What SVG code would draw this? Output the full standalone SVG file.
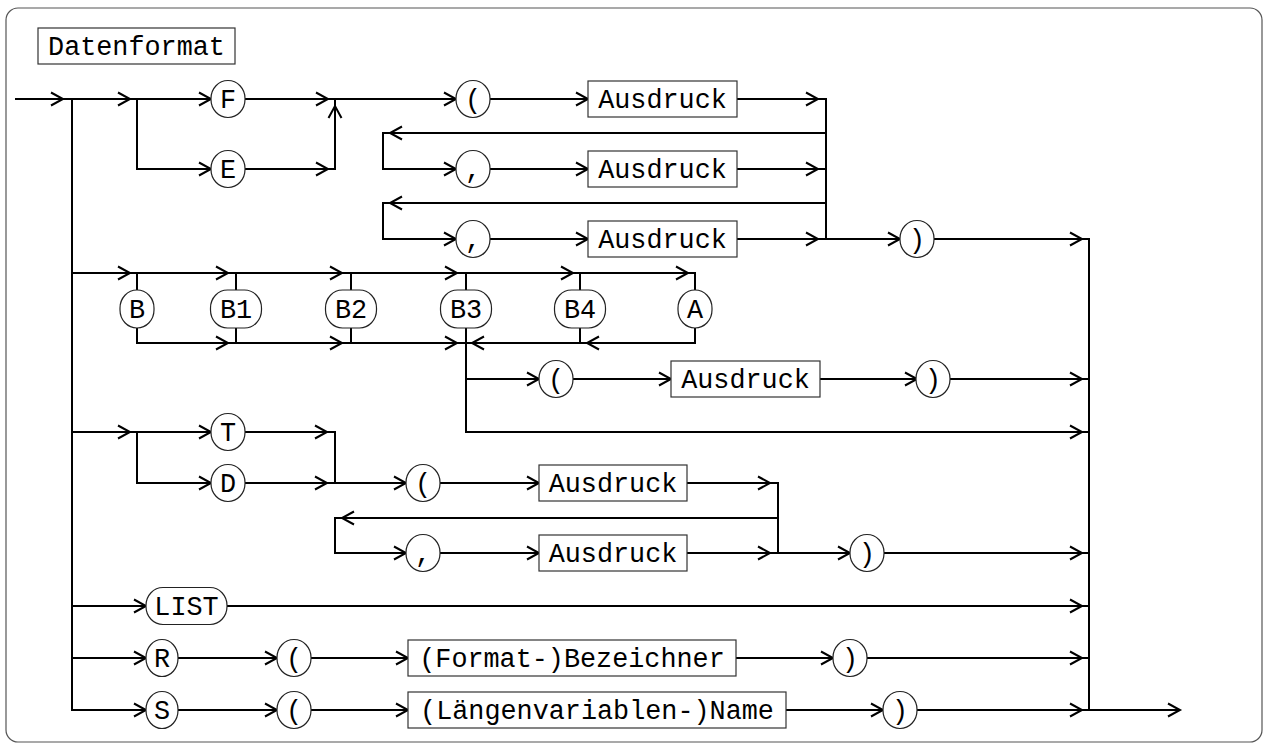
<svg xmlns="http://www.w3.org/2000/svg" xmlns:xlink="http://www.w3.org/1999/xlink" width="1270" height="748" viewBox="0 0 1270 748">
<style>
.frame{fill:#fff;stroke:#555;stroke-width:1.2}
.ln{fill:none;stroke:#000;stroke-width:2}
.ah{fill:none;stroke:#000;stroke-width:2}
.term{fill:#fff;stroke:#222;stroke-width:1.2}
.box{fill:#fff;stroke:#333;stroke-width:1.2}
.t{font-family:"Liberation Mono","DejaVu Sans Mono",monospace;font-size:26.8px;fill:#000;text-anchor:middle}
</style>
<defs>
<path id="ar" class="ah" d="M-12,-6.5 L0,0 L-12,6.5"/>
<path id="al" class="ah" d="M12,-6.5 L0,0 L12,6.5"/>
<path id="au" class="ah" d="M-6.5,12 L0,0 L6.5,12"/>
</defs>
<rect class="frame" x="6" y="8" width="1256" height="734" rx="12"/>
<g id="title"><rect class="box" x="38" y="28" width="197" height="36"/><text class="t" x="136.5" y="55">Datenformat</text></g>
<g id="connectors">
<path class="ln" d="M15,99 H211 M137,99 V169 H211 M245,99 H456 M245,169 H335 V99 M490,99 H588 M737,99 H826 V239 H900 M826,133 H383 V169 H456 M490,169 H588 M737,169 H826 M826,203 H383 V239 H456 M490,239 H588 M737,239 H826 M934,239 H1089 V710 M1089,710 H1180 M72,99 V710 H146"/>
<path class="ln" d="M72,273 H695 V290 M137,273 V290 M236,273 V290 M351,273 V290 M466,273 V290 M580,273 V290 M137,328 V343 H466 M236,328 V343 M351,328 V343 M580,328 V343 M695,328 V343 H466 M466,328 V432 H1089 M466,379 H539 M573,379 H671 M820,379 H917 M950,379 H1089"/>
<path class="ln" d="M72,432 H211 M137,432 V483 H211 M245,432 H335 V483 M245,483 H406 M440,483 H539 M687,483 H778 V553 H850 M778,518 H335 V553 H406 M440,553 H539 M687,553 H778 M884,553 H1089"/>
<path class="ln" d="M72,606 H146 M227,606 H1089 M72,658 H146 M178,658 H277 M311,658 H408 M736,658 H833 M867,658 H1089 M178,710 H277 M311,710 H408 M786,710 H883 M917,710 H1089"/>
<g id="arrows">
<use xlink:href="#ar" x="63" y="99"/><use xlink:href="#ar" x="130" y="99"/><use xlink:href="#ar" x="211" y="99"/><use xlink:href="#ar" x="328" y="99"/><use xlink:href="#ar" x="456" y="99"/><use xlink:href="#ar" x="588" y="99"/><use xlink:href="#ar" x="818" y="99"/>
<use xlink:href="#ar" x="211" y="169"/><use xlink:href="#ar" x="328" y="169"/><use xlink:href="#ar" x="456" y="169"/><use xlink:href="#ar" x="588" y="169"/><use xlink:href="#ar" x="818" y="169"/>
<use xlink:href="#ar" x="456" y="239"/><use xlink:href="#ar" x="588" y="239"/><use xlink:href="#ar" x="818" y="239"/><use xlink:href="#ar" x="900" y="239"/><use xlink:href="#ar" x="1082" y="239"/>
<use xlink:href="#au" x="335" y="106"/>
<use xlink:href="#al" x="390" y="133"/><use xlink:href="#al" x="390" y="203"/>
<use xlink:href="#ar" x="130" y="273"/><use xlink:href="#ar" x="228" y="273"/><use xlink:href="#ar" x="342" y="273"/><use xlink:href="#ar" x="457" y="273"/><use xlink:href="#ar" x="573" y="273"/><use xlink:href="#ar" x="688" y="273"/>
<use xlink:href="#ar" x="228" y="343"/><use xlink:href="#ar" x="342" y="343"/><use xlink:href="#ar" x="457" y="343"/><use xlink:href="#al" x="587" y="343"/><use xlink:href="#al" x="472" y="343"/>
<use xlink:href="#ar" x="539" y="379"/><use xlink:href="#ar" x="671" y="379"/><use xlink:href="#ar" x="917" y="379"/><use xlink:href="#ar" x="1082" y="379"/>
<use xlink:href="#ar" x="1082" y="432"/>
<use xlink:href="#ar" x="130" y="432"/><use xlink:href="#ar" x="211" y="432"/><use xlink:href="#ar" x="327" y="432"/>
<use xlink:href="#ar" x="211" y="483"/><use xlink:href="#ar" x="327" y="483"/><use xlink:href="#ar" x="406" y="483"/><use xlink:href="#ar" x="539" y="483"/><use xlink:href="#ar" x="770" y="483"/>
<use xlink:href="#al" x="342" y="518"/>
<use xlink:href="#ar" x="406" y="553"/><use xlink:href="#ar" x="539" y="553"/><use xlink:href="#ar" x="770" y="553"/><use xlink:href="#ar" x="850" y="553"/><use xlink:href="#ar" x="1082" y="553"/>
<use xlink:href="#ar" x="146" y="606"/><use xlink:href="#ar" x="1082" y="606"/>
<use xlink:href="#ar" x="146" y="658"/><use xlink:href="#ar" x="277" y="658"/><use xlink:href="#ar" x="408" y="658"/><use xlink:href="#ar" x="833" y="658"/><use xlink:href="#ar" x="1082" y="658"/>
<use xlink:href="#ar" x="146" y="710"/><use xlink:href="#ar" x="277" y="710"/><use xlink:href="#ar" x="408" y="710"/><use xlink:href="#ar" x="883" y="710"/><use xlink:href="#ar" x="1082" y="710"/><use xlink:href="#ar" x="1180" y="710"/>
</g>
</g>
<g id="n-F"><rect class="term" x="211" y="80.5" width="34" height="37" rx="17" ry="18"/><text class="t" x="228" y="108">F</text></g>
<g id="n-E"><rect class="term" x="211" y="150.5" width="34" height="37" rx="17" ry="18"/><text class="t" x="228" y="178">E</text></g>
<g id="n-lp1"><rect class="term" x="456" y="80.5" width="34" height="37" rx="17" ry="18"/><text class="t" x="473" y="108">(</text></g>
<g id="n-c1"><rect class="term" x="456" y="150.5" width="34" height="37" rx="17" ry="18"/><text class="t" x="473" y="178">,</text></g>
<g id="n-c2"><rect class="term" x="456" y="220.5" width="34" height="37" rx="17" ry="18"/><text class="t" x="473" y="248">,</text></g>
<g id="n-A1"><rect class="box" x="588" y="81" width="149" height="36"/><text class="t" x="662.5" y="108">Ausdruck</text></g>
<g id="n-A2"><rect class="box" x="588" y="151" width="149" height="36"/><text class="t" x="662.5" y="178">Ausdruck</text></g>
<g id="n-A3"><rect class="box" x="588" y="221" width="149" height="36"/><text class="t" x="662.5" y="248">Ausdruck</text></g>
<g id="n-rp1"><rect class="term" x="900" y="220.5" width="34" height="37" rx="17" ry="18"/><text class="t" x="917" y="248">)</text></g>
<g id="n-B"><rect class="term" x="120" y="290" width="34" height="38" rx="17" ry="18"/><text class="t" x="137" y="318">B</text></g>
<g id="n-B1"><rect class="term" x="210.5" y="290" width="51" height="38" rx="17" ry="18"/><text class="t" x="236" y="318">B1</text></g>
<g id="n-B2"><rect class="term" x="325.5" y="290" width="51" height="38" rx="17" ry="18"/><text class="t" x="351" y="318">B2</text></g>
<g id="n-B3"><rect class="term" x="440.5" y="290" width="51" height="38" rx="17" ry="18"/><text class="t" x="466" y="318">B3</text></g>
<g id="n-B4"><rect class="term" x="554.5" y="290" width="51" height="38" rx="17" ry="18"/><text class="t" x="580" y="318">B4</text></g>
<g id="n-Aa"><rect class="term" x="678" y="290" width="34" height="38" rx="17" ry="18"/><text class="t" x="695" y="318">A</text></g>
<g id="n-lp2"><rect class="term" x="539" y="360.5" width="34" height="37" rx="17" ry="18"/><text class="t" x="556" y="388">(</text></g>
<g id="n-A4"><rect class="box" x="671" y="361" width="149" height="36"/><text class="t" x="745.5" y="388">Ausdruck</text></g>
<g id="n-rp2"><rect class="term" x="916" y="360.5" width="34" height="37" rx="17" ry="18"/><text class="t" x="933" y="388">)</text></g>
<g id="n-T"><rect class="term" x="211" y="413.5" width="34" height="37" rx="17" ry="18"/><text class="t" x="228" y="441">T</text></g>
<g id="n-D"><rect class="term" x="211" y="464.5" width="34" height="37" rx="17" ry="18"/><text class="t" x="228" y="492">D</text></g>
<g id="n-lp3"><rect class="term" x="406" y="464.5" width="34" height="37" rx="17" ry="18"/><text class="t" x="423" y="492">(</text></g>
<g id="n-c3"><rect class="term" x="406" y="534.5" width="34" height="37" rx="17" ry="18"/><text class="t" x="423" y="562">,</text></g>
<g id="n-A5"><rect class="box" x="539" y="465" width="148" height="36"/><text class="t" x="613" y="492">Ausdruck</text></g>
<g id="n-A6"><rect class="box" x="539" y="535" width="148" height="36"/><text class="t" x="613" y="562">Ausdruck</text></g>
<g id="n-rp3"><rect class="term" x="850" y="534.5" width="34" height="37" rx="17" ry="18"/><text class="t" x="867" y="562">)</text></g>
<g id="n-LIST"><rect class="term" x="146" y="587.5" width="81" height="37" rx="17" ry="18"/><text class="t" x="186.5" y="615">LIST</text></g>
<g id="n-R"><rect class="term" x="146" y="639.5" width="32" height="37" rx="16" ry="18"/><text class="t" x="162" y="667">R</text></g>
<g id="n-lp4"><rect class="term" x="277" y="639.5" width="34" height="37" rx="17" ry="18"/><text class="t" x="294" y="667">(</text></g>
<g id="n-FB"><rect class="box" x="408" y="640" width="328" height="36"/><text class="t" x="572" y="667">(Format-)Bezeichner</text></g>
<g id="n-rp4"><rect class="term" x="833" y="639.5" width="34" height="37" rx="17" ry="18"/><text class="t" x="850" y="667">)</text></g>
<g id="n-S"><rect class="term" x="146" y="691.5" width="32" height="37" rx="16" ry="18"/><text class="t" x="162" y="719">S</text></g>
<g id="n-lp5"><rect class="term" x="277" y="691.5" width="34" height="37" rx="17" ry="18"/><text class="t" x="294" y="719">(</text></g>
<g id="n-LN"><rect class="box" x="408" y="692" width="378" height="36"/><text class="t" x="597" y="719">(Längenvariablen-)Name</text></g>
<g id="n-rp5"><rect class="term" x="883" y="691.5" width="34" height="37" rx="17" ry="18"/><text class="t" x="900" y="719">)</text></g>
</svg>
